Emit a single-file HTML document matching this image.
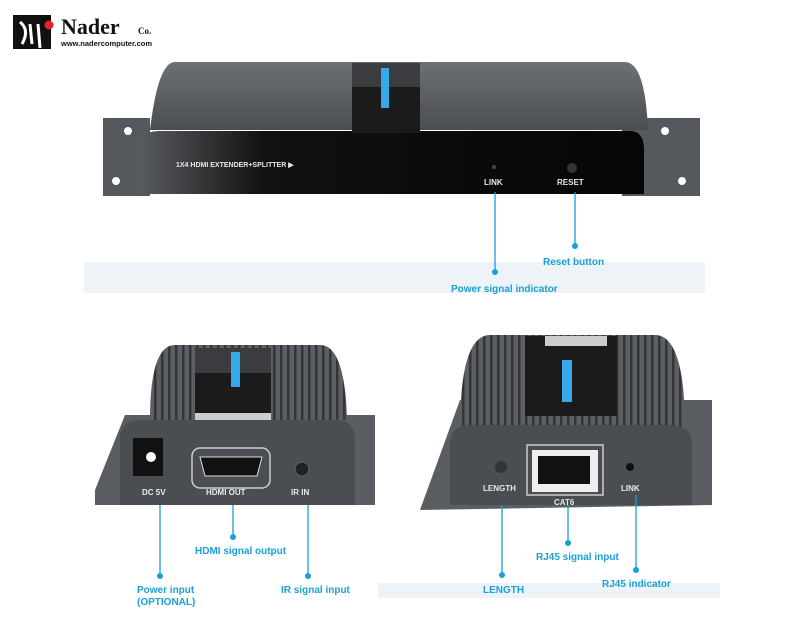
<!DOCTYPE html>
<html><head><meta charset="utf-8"><style>
html,body{margin:0;padding:0;background:#fff;width:800px;height:640px;overflow:hidden}
svg{display:block}
text{font-family:"Liberation Sans",sans-serif;font-weight:bold}
.lb{fill:#1a9fd8;font-size:10px}
.w{fill:#e8e8e8;font-size:8px}
</style></head><body>
<svg width="800" height="640" viewBox="0 0 800 640" xmlns="http://www.w3.org/2000/svg">
<defs>
<linearGradient id="front" x1="0" x2="1" y1="0" y2="0">
<stop offset="0" stop-color="#5a5d62"/><stop offset="0.25" stop-color="#111"/><stop offset="1" stop-color="#050505"/></linearGradient>
<linearGradient id="topg" x1="0" x2="0" y1="0" y2="1">
<stop offset="0" stop-color="#6d7075"/><stop offset="1" stop-color="#4a4d52"/></linearGradient>
<pattern id="fins" width="7" height="10" patternUnits="userSpaceOnUse"><rect width="7" height="10" fill="#5c5f64"/><rect width="2.5" height="10" fill="#33353a"/></pattern>
</defs>
<!-- logo -->
<rect x="13" y="15" width="38" height="34" fill="#111"/>
<path d="M20 22 Q30 30 22 44 M30 24 L32 44 M38 24 L40 48" stroke="#fff" stroke-width="3" fill="none"/>
<circle cx="49" cy="25" r="4.5" fill="#e3222b"/>
<text x="61" y="34" style="font-family:'Liberation Serif',serif;font-size:22px;fill:#111">Nader</text>
<text x="138" y="34" style="font-family:'Liberation Serif',serif;font-size:9px;fill:#111">Co.</text>
<text x="61" y="46" style="font-size:7.5px;fill:#111">www.nadercomputer.com</text>

<!-- top device -->
<rect x="84" y="262" width="621" height="31" fill="#eef3f8"/>
<path d="M103 118 L150 118 L150 196 L103 196 Z" fill="#55585d"/>
<path d="M622 118 L700 118 L700 196 L622 196 Z" fill="#55585d"/>
<circle cx="128" cy="131" r="4" fill="#fff"/><circle cx="116" cy="181" r="4" fill="#fff"/>
<circle cx="665" cy="131" r="4" fill="#fff"/><circle cx="682" cy="181" r="4" fill="#fff"/>
<path d="M150 130 Q158 62 175 62 L625 62 Q645 62 648 130 Z" fill="url(#topg)"/>
<path d="M137 150 Q137 132 158 131 L630 131 Q644 131 644 150 L644 194 L137 194 Z" fill="url(#front)"/>
<rect x="352" y="63" width="68" height="70" fill="#1b1b1c"/>
<rect x="352" y="63" width="68" height="24" fill="#3a3c3f"/>
<rect x="381" y="68" width="8" height="40" fill="#38a9e8"/>
<text x="176" y="167" class="w" style="font-size:7px">1X4 HDMI EXTENDER+SPLITTER ▶</text>
<circle cx="494" cy="167" r="2" fill="#444"/>
<circle cx="572" cy="168" r="5" fill="#333"/>
<text x="484" y="185" class="w">LINK</text>
<text x="557" y="185" class="w">RESET</text>
<line x1="495" y1="192" x2="495" y2="272" stroke="#1a9fd8" stroke-width="1.3"/>
<circle cx="495" cy="272" r="3" fill="#1a9fd8"/>
<line x1="575" y1="192" x2="575" y2="246" stroke="#1a9fd8" stroke-width="1.3"/>
<circle cx="575" cy="246" r="3" fill="#1a9fd8"/>
<text x="543" y="265" class="lb">Reset button</text>
<text x="451" y="292" class="lb">Power signal indicator</text>

<!-- bottom left device -->
<path d="M95 490 L125 415 L375 415 L375 505 L95 505 Z" fill="#5a5d62"/>
<path d="M150 420 Q150 345 175 345 L320 345 Q345 345 347 420 Z" fill="url(#fins)"/>
<rect x="195" y="348" width="76" height="70" fill="#1b1b1c"/>
<rect x="195" y="348" width="76" height="25" fill="#3a3c3f"/>
<rect x="231" y="352" width="9" height="35" fill="#38a9e8"/>
<rect x="195" y="413" width="76" height="8" fill="#ccc"/>
<path d="M120 440 Q120 420 140 420 L335 420 Q355 420 355 440 L355 505 L120 505 Z" fill="#4a4d52"/>
<rect x="133" y="438" width="30" height="38" fill="#111"/>
<circle cx="151" cy="457" r="5" fill="#fff"/>
<rect x="192" y="448" width="78" height="40" rx="8" fill="none" stroke="#ccc" stroke-width="1.5"/>
<path d="M200 457 L262 457 L257 476 L205 476 Z" fill="#111" stroke="#ddd"/>
<circle cx="302" cy="469" r="7" fill="#222" stroke="#666"/>
<text x="142" y="495" class="w">DC 5V</text>
<text x="206" y="495" class="w">HDMI OUT</text>
<text x="291" y="495" class="w">IR IN</text>
<line x1="160" y1="505" x2="160" y2="576" stroke="#1a9fd8" stroke-width="1.3"/>
<circle cx="160" cy="576" r="3" fill="#1a9fd8"/>
<line x1="233" y1="505" x2="233" y2="537" stroke="#1a9fd8" stroke-width="1.3"/>
<circle cx="233" cy="537" r="3" fill="#1a9fd8"/>
<line x1="308" y1="505" x2="308" y2="576" stroke="#1a9fd8" stroke-width="1.3"/>
<circle cx="308" cy="576" r="3" fill="#1a9fd8"/>
<text x="195" y="554" class="lb">HDMI signal output</text>
<text x="137" y="593" class="lb">Power input</text>
<text x="137" y="605" class="lb">(OPTIONAL)</text>
<text x="281" y="593" class="lb">IR signal input</text>

<!-- bottom right device -->
<rect x="378" y="583" width="342" height="15" fill="#eef3f8"/>
<path d="M420 510 L460 400 L712 400 L712 505 L420 510 Z" fill="#5a5d62"/>
<path d="M460 430 Q460 335 490 335 L655 335 Q685 335 685 430 Z" fill="url(#fins)"/>
<rect x="525" y="336" width="92" height="80" fill="#1b1b1c"/>
<rect x="545" y="336" width="62" height="10" fill="#ccc"/>
<rect x="562" y="360" width="10" height="42" fill="#38a9e8"/>
<path d="M450 445 Q450 425 470 425 L670 425 Q692 425 692 445 L692 505 L450 505 Z" fill="#4a4d52"/>
<rect x="527" y="445" width="76" height="50" fill="none" stroke="#ccc" stroke-width="1.5"/>
<rect x="532" y="450" width="66" height="42" fill="#eee"/>
<rect x="538" y="456" width="52" height="28" fill="#111"/>
<circle cx="501" cy="467" r="6" fill="#333"/>
<circle cx="630" cy="467" r="4" fill="#111"/>
<text x="483" y="491" class="w">LENGTH</text>
<text x="554" y="505" class="w">CAT6</text>
<text x="621" y="491" class="w">LINK</text>
<line x1="502" y1="505" x2="502" y2="575" stroke="#1a9fd8" stroke-width="1.3"/>
<circle cx="502" cy="575" r="3" fill="#1a9fd8"/>
<line x1="568" y1="505" x2="568" y2="543" stroke="#1a9fd8" stroke-width="1.3"/>
<circle cx="568" cy="543" r="3" fill="#1a9fd8"/>
<line x1="636" y1="495" x2="636" y2="570" stroke="#1a9fd8" stroke-width="1.3"/>
<circle cx="636" cy="570" r="3" fill="#1a9fd8"/>
<text x="536" y="560" class="lb">RJ45 signal input</text>
<text x="483" y="593" class="lb">LENGTH</text>
<text x="602" y="587" class="lb">RJ45 indicator</text>
</svg>
</body></html>
